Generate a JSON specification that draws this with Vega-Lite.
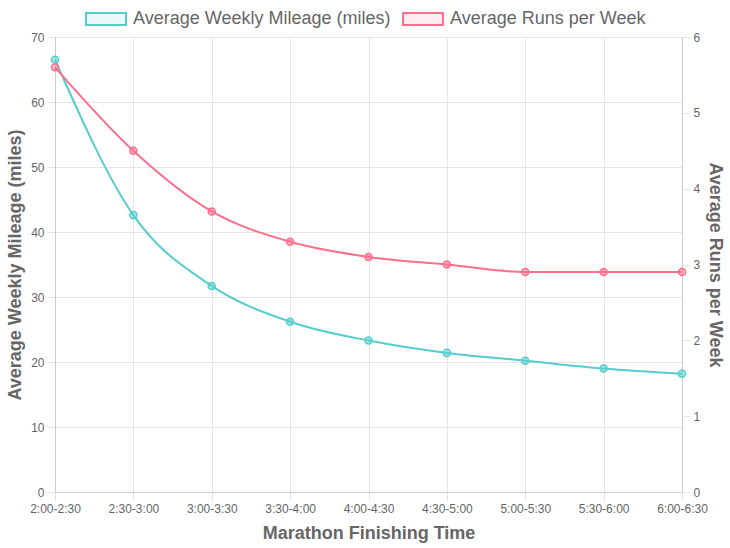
{
  "$schema": "https://vega.github.io/schema/vega-lite/v6.json",
  "width": 627,
  "height": 455,
  "autosize": {"type": "none"},
  "padding": {"left": 55, "top": 37, "right": 48, "bottom": 56},
  "config": {
    "font": "Liberation Sans",
    "view": {"stroke": null},
    "axis": {
      "labelFontSize": 12,
      "labelColor": "#666666",
      "titleColor": "#666666",
      "titleFontSize": 18,
      "titleFontWeight": "bold",
      "gridColor": "#e6e6e6",
      "tickColor": "#e6e6e6",
      "domainColor": "#cccccc",
      "tickSize": 8,
      "labelPadding": 3
    }
  },
  "data": {
    "values": [
      {"time": "2:00-2:30", "mileage": 66.5, "runs": 5.6},
      {"time": "2:30-3:00", "mileage": 42.6, "runs": 4.5},
      {"time": "3:00-3:30", "mileage": 31.7, "runs": 3.7},
      {"time": "3:30-4:00", "mileage": 26.2, "runs": 3.3},
      {"time": "4:00-4:30", "mileage": 23.3, "runs": 3.1},
      {"time": "4:30-5:00", "mileage": 21.4, "runs": 3.0},
      {"time": "5:00-5:30", "mileage": 20.2, "runs": 2.9},
      {"time": "5:30-6:00", "mileage": 19.0, "runs": 2.9},
      {"time": "6:00-6:30", "mileage": 18.2, "runs": 2.9}
    ]
  },
  "encoding": {
    "x": {
      "field": "time",
      "type": "ordinal",
      "sort": null,
      "scale": {"type": "point", "padding": 0},
      "axis": {
        "title": "Marathon Finishing Time",
        "labelAngle": 0,
        "grid": true,
        "titlePadding": 10
      }
    }
  },
  "layer": [
    {
      "encoding": {
        "y": {
          "field": "mileage",
          "type": "quantitative",
          "scale": {"domain": [0, 70]},
          "axis": {
            "title": "Average Weekly Mileage (miles)",
            "values": [0, 10, 20, 30, 40, 50, 60, 70],
            "grid": true,
            "titlePadding": 6
          }
        }
      },
      "layer": [
        {
          "mark": {"type": "line", "interpolate": "monotone", "strokeWidth": 2},
          "encoding": {
            "color": {
              "datum": "Average Weekly Mileage (miles)",
              "type": "nominal",
              "scale": {
                "domain": ["Average Weekly Mileage (miles)", "Average Runs per Week"],
                "range": ["rgb(85,205,205)", "rgb(255,110,140)"]
              },
              "legend": {
                "orient": "none",
                "legendX": 30,
                "legendY": -39,
                "direction": "horizontal",
                "title": null,
                "symbolType": "M-1,-0.3H1V0.3H-1Z",
                "symbolSize": 1600,
                "symbolStrokeWidth": 2,
                "labelFontSize": 18,
                "labelLimit": 0,
                "labelColor": "#666666",
                "labelOffset": 6,
                "columnPadding": 8,
                "encode": {
                  "symbols": {
                    "update": {
                      "fill": {"scale": "color", "field": "value"},
                      "fillOpacity": {"value": 0.12}
                    }
                  }
                }
              }
            }
          }
        },
        {
          "mark": {"type": "point", "shape": "circle", "size": 50, "filled": false, "fill": "rgba(85,205,205,0.5)", "stroke": "rgb(85,205,205)", "strokeWidth": 1.5, "opacity": 1}
        }
      ]
    },
    {
      "encoding": {
        "y": {
          "field": "runs",
          "type": "quantitative",
          "scale": {"domain": [0, 6]},
          "axis": {
            "orient": "right",
            "title": "Average Runs per Week",
            "values": [0, 1, 2, 3, 4, 5, 6],
            "grid": false,
            "titlePadding": 6
          }
        }
      },
      "layer": [
        {
          "mark": {"type": "line", "interpolate": "monotone", "strokeWidth": 2},
          "encoding": {
            "color": {
              "datum": "Average Runs per Week",
              "type": "nominal"
            }
          }
        },
        {
          "mark": {"type": "point", "shape": "circle", "size": 50, "filled": false, "fill": "rgba(255,110,140,0.5)", "stroke": "rgb(255,110,140)", "strokeWidth": 1.5, "opacity": 1}
        }
      ]
    }
  ],
  "resolve": {"scale": {"y": "independent"}}
}
